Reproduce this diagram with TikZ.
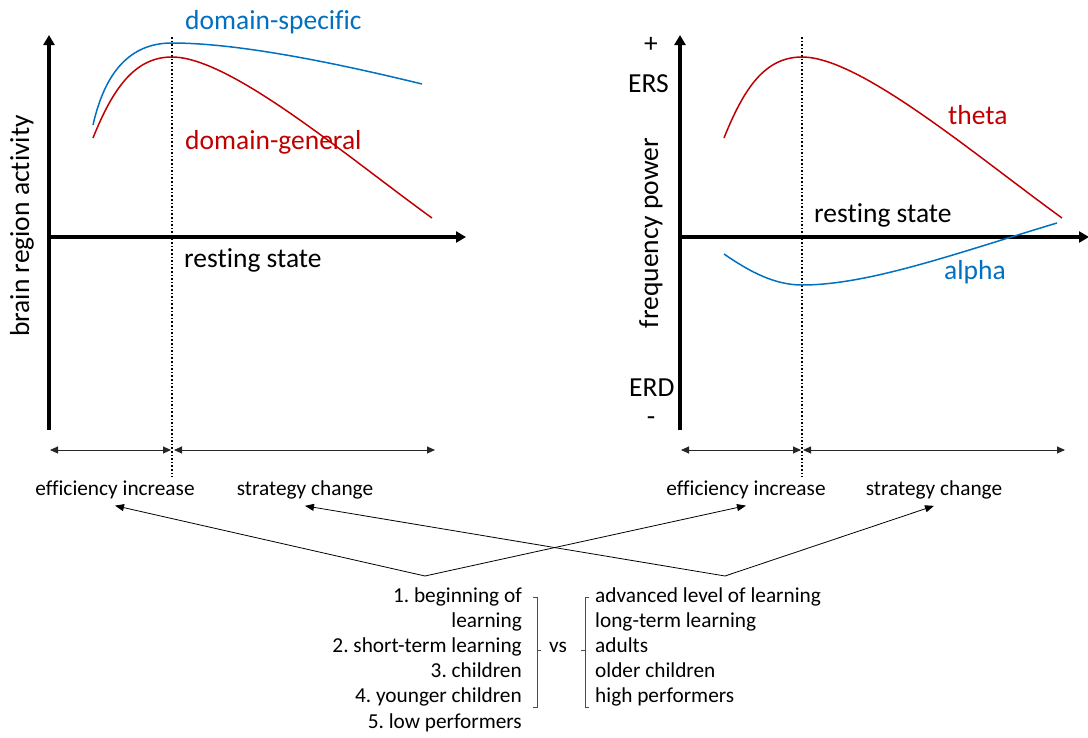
\documentclass[tikz,border=0pt]{standalone}
\usepackage{fontspec}
\setmainfont{Carlito}[Ligatures={NoCommon}]
\usetikzlibrary{arrows.meta}
\definecolor{curveblue}{RGB}{0,112,192}
\definecolor{curvered}{RGB}{192,0,0}
\frenchspacing

\begin{document}
\begin{tikzpicture}[x=1pt,y=-1pt,
  axis/.style={line width=3.5pt,-{Triangle[length=10pt,width=11pt]}},
  guide/.style={dotted,line width=1.6pt},
  span/.style={line width=0.9pt,draw=black!85,
    {Triangle[length=8pt,width=7pt]}-{Triangle[length=8pt,width=7pt]}},
  link/.style={line width=0.8pt,-{Triangle[length=9pt,width=7pt]}},
  curve/.style={line width=1.5pt},
  brack/.style={line width=0.8pt,draw=black!70},
  big/.style={font=\fontsize{27.5}{33}\selectfont,inner sep=0pt},
  small/.style={font=\fontsize{21.3}{25.2}\selectfont,inner sep=0pt},
  phase/.style={small,anchor=base,inner ysep=7pt},
]
\useasboundingbox (0,0) rectangle (1088,737);

% ---------- left panel: brain region activity ----------
\coordinate (LO) at (49,237);
\coordinate (Ltop) at (49,35);
\coordinate (Lbot) at (49,430);
\coordinate (Lend) at (466,237);
\draw[axis] (Lbot) -- (Ltop);
\draw[axis] (LO) -- (Lend);
\coordinate (Lg1) at (172,37);
\coordinate (Lg2) at (172,477);
\draw[guide] (Lg1) -- (Lg2);

\draw[curve,curveblue] (93,125) .. controls (105,72) and (130,43) .. (172,43)
  .. controls (240,43) and (340,64) .. (422,84);
\draw[curve,curvered] (93,138) .. controls (113,88) and (135,57) .. (172,57)
  .. controls (230,57) and (345,155) .. (432,218);

\node[big,anchor=base west,text=curveblue] (dspec) at (185,29) {domain-specific};
\node[big,anchor=base west,text=curvered] (dgen) at (185,149) {domain-general};
\node[big,anchor=base west] (restL) at (184,267) {resting state};
\node[big,rotate=90] (ylabL) at (22,226) {brain region activity};

\coordinate (La) at (50,450);
\coordinate (Lb) at (171,450);
\coordinate (Lc) at (174,450);
\coordinate (Ld) at (435,450);
\draw[span] (La) -- (Lb);
\draw[span] (Lc) -- (Ld);
\node[phase] (effL) at (115,495) {efficiency increase};
\node[phase] (strL) at (305,495) {strategy change};

% ---------- right panel: frequency power ----------
\coordinate (RO) at (680,237);
\coordinate (Rtop) at (680,35);
\coordinate (Rbot) at (680,430);
\coordinate (Rend) at (1089,237);
\draw[axis] (Rbot) -- (Rtop);
\draw[axis] (RO) -- (Rend);
\coordinate (Rg1) at (802,37);
\coordinate (Rg2) at (802,477);
\draw[guide] (Rg1) -- (Rg2);

\draw[curve,curvered] (724,138) .. controls (744,88) and (765,57) .. (802,57)
  .. controls (860,57) and (975,155) .. (1062,218);
\draw[curve,curveblue] (724,254) .. controls (750,272) and (775,285) .. (802,285)
  .. controls (870,285) and (960,252) .. (1057,223);

\node[big,anchor=base west,text=curvered] (theta) at (948,124) {theta};
\node[big,anchor=base west,text=curveblue] (alpha) at (944,279) {alpha};
\node[big,anchor=base west] (restR) at (814,222) {resting state};
\node[big] (plus) at (651,45) {+};
\node[big,anchor=base west] (ers) at (628,92) {ERS};
\node[big,anchor=base west] (erd) at (629,396) {ERD};
\node[big] (minus) at (651,421) {-};
\node[big,rotate=90] (ylabR) at (651,233) {frequency power};

\coordinate (Ra) at (681,450);
\coordinate (Rb) at (801,450);
\coordinate (Rc) at (803,450);
\coordinate (Rd) at (1065,450);
\draw[span] (Ra) -- (Rb);
\draw[span] (Rc) -- (Rd);
\node[phase] (effR) at (746,495) {efficiency increase};
\node[phase] (strR) at (934,495) {strategy change};

% ---------- comparison of groups ----------
\foreach \t [count=\i] in {{1. beginning of},{learning},{2. short-term learning},
    {3. children},{4. younger children},{5. low performers}}
  \node[small,anchor=base east] (low\i) at (522,{602+25.2*(\i-1)}) {\t};
\foreach \t [count=\i] in {{advanced level of learning},{long-term learning},
    {adults},{older children},{high performers}}
  \node[small,anchor=base west] (high\i) at (595,{602+25.2*(\i-1)}) {\t};
\node[small,anchor=base] (vs) at (558,652.4) {vs};

\draw[brack] (533,597) -- (537,597) -- (537,707) -- (533,707);
\draw[brack] (537,650) -- (541,650);
\draw[brack] (589,597) -- (585,597) -- (585,707) -- (589,707);
\draw[brack] (585,650) -- (581,650);

\coordinate (srcA) at (425,576);
\coordinate (srcB) at (725,576);
\draw[link] (srcA) -- (effL.south);
\draw[link] (srcA) -- (effR.south);
\draw[link] (srcB) -- (strL.south);
\draw[link] (srcB) -- (strR.south);
\end{tikzpicture}
\end{document}
